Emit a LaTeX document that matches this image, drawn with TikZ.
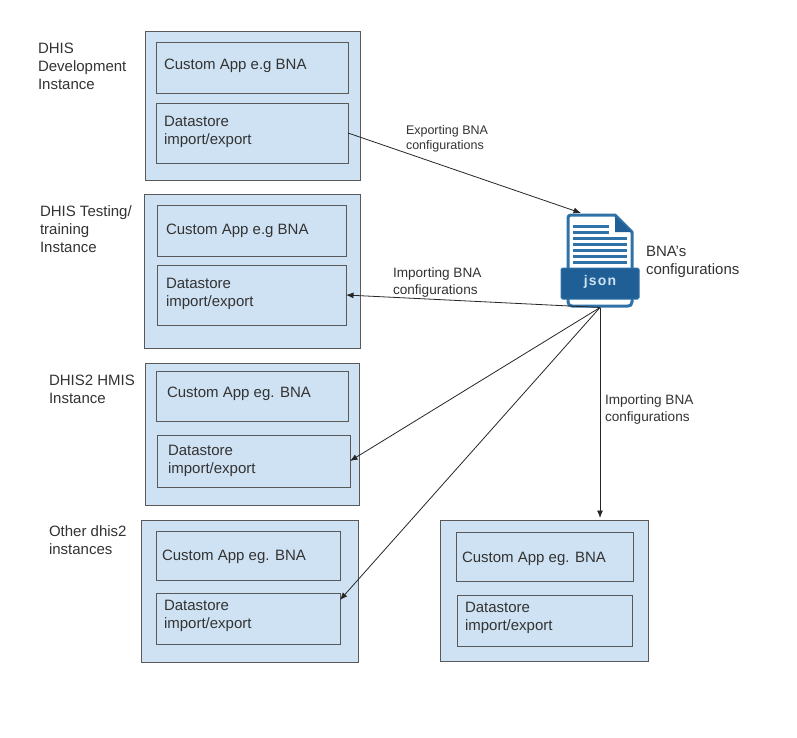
\documentclass[tikz,border=0pt]{standalone}
\usepackage{fontspec}
\setmainfont{Liberation Sans}
\newfontfamily\jsonfont[LetterSpace=8]{Liberation Sans}
\usetikzlibrary{arrows.meta}
\definecolor{boxfill}{HTML}{CFE2F3}
\definecolor{boxline}{HTML}{595959}
\definecolor{ink}{HTML}{333333}
\definecolor{iconblue}{HTML}{1F5F96}
\definecolor{iconline}{HTML}{2F72A8}
\newcommand{\bx}[6][panel]{\node[#1,minimum width={(#5-#3)*1pt},minimum height={(#6-#4)*1pt}] (#2) at ({(#3+#5)/2},{(#4+#6)/2}) {};}
\tikzset{
  panel/.style={draw=boxline,fill=boxfill,line width=1pt,inner sep=0pt,outer sep=0pt},
  lbl/.style={anchor=west,inner sep=0pt,outer sep=0pt,align=left,text=ink,font=\fontsize{15}{18}\selectfont},
  small/.style={anchor=west,inner sep=0pt,outer sep=0pt,align=left,text=ink,font=\fontsize{13.6}{17}\selectfont},
  tiny/.style={anchor=west,inner sep=0pt,outer sep=0pt,align=left,text=ink,font=\fontsize{12.5}{15}\selectfont},
  link/.style={draw=black!85,line width=0.8pt,-{Latex[length=7.5pt,width=6pt]}},
  bar/.style={draw=iconline,line width=3pt}
}
\begin{document}
\begin{tikzpicture}[x=1pt,y=-1pt]
\useasboundingbox[fill=white] (0,0) rectangle (797,737);
% group 1
\bx{a0}{145}{31}{360}{180}
\bx{a1}{156}{42}{348}{93}
\bx{a2}{156}{103}{348}{163}
\node[lbl] (a1t) at (164,65.5) {Custom App e.g BNA};
\node[lbl] (a2t) at (164,132) {Datastore\\import/export};
\node[lbl] (a0t) at (38,66) {DHIS\\Development\\Instance};
% group 2
\bx{b0}{144}{194}{360}{348}
\bx{b1}{157}{205}{346}{256}
\bx{b2}{157}{265}{346}{325}
\node[lbl] (b1t) at (166,230.5) {Custom App e.g BNA};
\node[lbl] (b2t) at (166,294) {Datastore\\import/export};
\node[lbl] (b0t) at (40,229) {DHIS Testing/\\training\\Instance};
% group 3
\bx{c0}{145}{363}{359}{505}
\bx{c1}{156}{371}{348}{421}
\bx{c2}{157}{435}{350}{487}
\node[lbl] (c1t) at (167,393.5) {Custom App eg. BNA};
\node[lbl] (c2t) at (168,461) {Datastore\\import/export};
\node[lbl] (c0t) at (49,389) {DHIS2 HMIS\\Instance};
% group 4
\bx{d0}{141}{520}{358}{662}
\bx{d1}{156}{531}{340}{580}
\bx{d2}{156}{593}{340}{644}
\node[lbl] (d1t) at (162,556.5) {Custom App eg. BNA};
\node[lbl] (d2t) at (164,616) {Datastore\\import/export};
\node[lbl] (d0t) at (49,540) {Other dhis2\\instances};
% group 5
\bx{e0}{440}{520}{648}{661}
\bx{e1}{456}{532}{633}{581}
\bx{e2}{457}{595}{632}{646}
\node[lbl] (e1t) at (462,558.5) {Custom App eg. BNA};
\node[lbl] (e2t) at (465,617.5) {Datastore\\import/export};
% json icon
\node[inner sep=0pt,outer sep=0pt,minimum width=68pt,minimum height=94pt] (icon) at (600,260.5) {};
\draw[line width=3pt,draw=iconline,fill=white,line join=round] (571,215) -- (615,215) -- (632,232) -- (632,302) .. controls (632,305) and (630,306) .. (628,306) -- (572,306) .. controls (570,306) and (568,305) .. (568,302) -- (568,218) .. controls (568,216) and (569,215) .. (571,215) -- cycle;
\fill[iconblue] (615,216) -- (632,232) -- (615,232) -- cycle;
\foreach \yy/\xe in {226/609,232/609,238/627,244/627,250/627,256/627,262/627}
  \draw[bar] (573,\yy) -- (\xe,\yy);
\fill[iconblue,draw=iconline,line width=1pt,rounded corners=1.5pt] (561,268) rectangle (639,299);
\node[inner sep=0pt,text=boxfill,font=\jsonfont\fontsize{14}{15}\bfseries\selectfont] (jsonlabel) at (600,282) {json};
\node[lbl] (icont) at (646,262) {BNA’s\\configurations};
% connectors
\coordinate (iconin) at (581,213);
\coordinate (eTop) at (icon.south |- 0,518);
\draw[link] (a2.east) -- (iconin);
\draw[link] (icon.south) -- (b2.east);
\draw[link] (icon.south) -- (c2.east);
\draw[link] (icon.south) -- ([yshift=18.5pt]d2.east);
\draw[link] (icon.south) -- (eTop);
% connector labels
\node[tiny] (l1) at (406,139) {Exporting BNA\\configurations};
\node[small] (l2) at (393,282) {Importing BNA\\configurations};
\node[small] (l3) at (605,409.5) {Importing BNA\\configurations};
\end{tikzpicture}
\end{document}
